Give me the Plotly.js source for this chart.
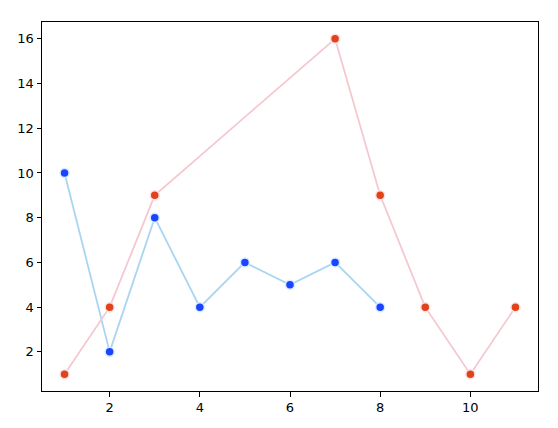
<!DOCTYPE html>
<html>
<head>
<meta charset="utf-8">
<script src="https://cdn.plot.ly/plotly-3.0.1.min.js"></script>
<style>html,body{margin:0;padding:0;background:#fff;}#chart{width:558px;height:428px;}</style>
</head>
<body>
<div id="chart"></div>
<script>
const blueX = [1, 2, 3, 4, 5, 6, 7, 8];
const blueY = [10, 2, 8, 4, 6, 5, 6, 4];
const redX = [1, 2, 3, 7, 8, 9, 10, 11];
const redY = [1, 4, 9, 16, 9, 4, 1, 4];
const xTicks = [2, 4, 6, 8, 10];
const yTicks = [2, 4, 6, 8, 10, 12, 14, 16];

const traces = [
  {
    x: blueX, y: blueY, type: 'scatter', mode: 'lines+markers',
    line: {color: '#aad5f0', width: 1.8},
    marker: {color: '#1a44ff', size: 9, line: {color: '#d8ecff', width: 1.5}},
    showlegend: false
  },
  {
    x: redX, y: redY, type: 'scatter', mode: 'lines+markers',
    line: {color: '#f5c8d0', width: 1.8},
    marker: {color: '#e2421a', size: 9, line: {color: '#fde0e4', width: 1.5}},
    showlegend: false
  }
];

const axisCommon = {
  showgrid: false, zeroline: false, showline: true, mirror: true,
  linecolor: '#000', linewidth: 1, ticks: 'outside', ticklen: 4.5,
  tickcolor: '#000', tickwidth: 1,
  tickfont: {family: 'DejaVu Sans', size: 13, color: '#000'}
};

const layout = {
  width: 558, height: 428,
  margin: {l: 42, r: 20, t: 22, b: 37},
  paper_bgcolor: '#fff', plot_bgcolor: '#fff',
  xaxis: Object.assign({}, axisCommon, {range: [0.5, 11.5], tickvals: xTicks, ticktext: xTicks.map(String)}),
  yaxis: Object.assign({}, axisCommon, {range: [0.25, 16.75], tickvals: yTicks, ticktext: yTicks.map(String)})
};

Plotly.newPlot('chart', traces, layout, {displayModeBar: false, staticPlot: true});
</script>
</body>
</html>
